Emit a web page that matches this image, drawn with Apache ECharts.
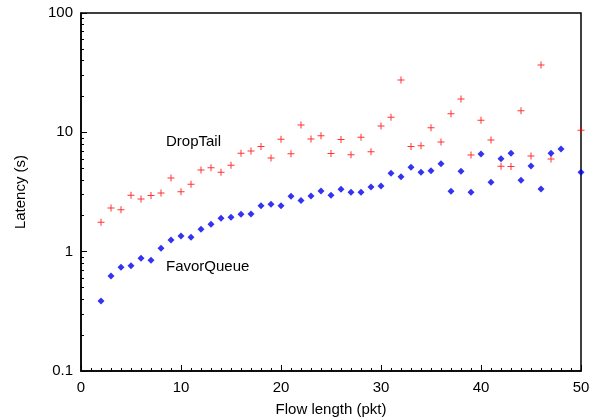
<!DOCTYPE html>
<html><head><meta charset="utf-8">
<script src="https://cdn.jsdelivr.net/npm/echarts@6/dist/echarts.min.js"></script>
<style>html,body{margin:0;padding:0;background:#fff}#c{width:600px;height:419px}</style>
</head><body><div id="c"></div>
<script>
var flowLengths = [2,3,4,5,6,7,8,9,10,11,12,13,14,15,16,17,18,19,20,21,22,23,24,25,26,27,28,29,30,31,32,33,34,35,36,37,38,39,40,41,42,43,44,45,46,47,48,50];
var dropTail = [1.76,2.32,2.24,2.97,2.76,2.95,3.10,4.15,3.17,3.67,4.84,5.06,4.63,5.30,6.68,6.98,7.59,6.10,8.75,6.63,11.5,8.80,9.38,6.65,8.7,6.50,9.09,6.89,11.3,13.4,27.5,7.59,7.73,10.9,8.30,14.3,19.0,6.46,12.6,8.63,5.20,5.16,15.2,6.34,36.7,5.98,null,10.4];
var favorQueue = [0.386,0.626,0.740,0.763,0.880,0.847,1.068,1.25,1.35,1.32,1.54,1.70,1.91,1.94,2.06,2.07,2.42,2.50,2.42,2.91,2.68,2.93,3.23,2.97,3.33,3.15,3.15,3.49,3.55,4.54,4.25,5.10,4.63,4.77,5.46,3.21,4.72,3.15,6.59,3.82,6.02,6.68,3.97,5.23,3.35,6.68,7.26,4.63];
var yMajorTicks = [0.1,1,10,100];
var yMinorTicks = [0.2,0.3,0.4,0.5,0.6,0.7,0.8,0.9,2,3,4,5,6,7,8,9,20,30,40,50,60,70,80,90];
var seriesNames = ['DropTail','FavorQueue'];
var xTitle = 'Flow length (pkt)';
var yTitle = 'Latency (s)';

function pairs(ys){ var out=[]; for(var i=0;i<flowLengths.length;i++){ if(ys[i]!=null) out.push([flowLengths[i], ys[i]]); } return out; }

var FONT = 'Liberation Sans, Arial, sans-serif';
var chart = echarts.init(document.getElementById('c'), null, {renderer:'canvas'});
chart.setOption({
  animation:false,
  backgroundColor:'#fff',
  grid:{left:81,right:19,top:13,bottom:48,containLabel:false,outerBoundsMode:'none',show:true,borderColor:'#000',borderWidth:1.5,backgroundColor:'transparent'},
  xAxis:{type:'value',min:0,max:50,interval:10,
    name:xTitle,nameLocation:'middle',nameGap:31,nameTextStyle:{fontFamily:FONT,fontSize:15,color:'#000'},
    axisLine:{show:true,lineStyle:{color:'#000',width:1.5}},
    axisTick:{show:true,inside:true,length:6,lineStyle:{color:'#000',width:1}},
    minorTick:{show:true,splitNumber:10,length:3,lineStyle:{color:'#000',width:1}},
    axisLabel:{fontFamily:FONT,fontSize:15,color:'#000',margin:9},
    splitLine:{show:false}},
  yAxis:[{type:'log',logBase:10,min:0.1,max:100,
    name:yTitle,nameLocation:'middle',nameGap:53,nameTextStyle:{fontFamily:FONT,fontSize:15,color:'#000'},
    axisLine:{show:true,lineStyle:{color:'#000',width:1.5}},
    axisTick:{show:true,inside:true,length:6,lineStyle:{color:'#000',width:1},customValues:yMajorTicks},
    axisLabel:{fontFamily:FONT,fontSize:15,color:'#000',margin:8,customValues:yMajorTicks,
      formatter:function(v){return String(+v.toPrecision(3));}},
    splitLine:{show:false}},
   {type:'log',logBase:10,min:0.1,max:100,position:'left',offset:0,
    axisLine:{show:false},
    axisTick:{show:true,inside:true,length:3,lineStyle:{color:'#000',width:1},customValues:yMinorTicks},
    axisLabel:{show:false},splitLine:{show:false}}],
  series:[
    {name:seriesNames[0],type:'scatter',data:pairs(dropTail),
     symbol:'path://M3,0h1v7h-1zM0,3h7v1h-7z',symbolSize:7,itemStyle:{color:'#ff0000'}},
    {name:seriesNames[1],type:'scatter',data:pairs(favorQueue),
     symbol:'diamond',symbolSize:7,itemStyle:{color:'#0000ee'}}
  ],
  graphic:[
    {type:'text',left:166,top:134,style:{text:seriesNames[0],fontFamily:FONT,fontSize:15,fill:'#000'}},
    {type:'text',left:166,top:259,style:{text:seriesNames[1],fontFamily:FONT,fontSize:15,fill:'#000'}}
  ]
});
</script></body></html>
